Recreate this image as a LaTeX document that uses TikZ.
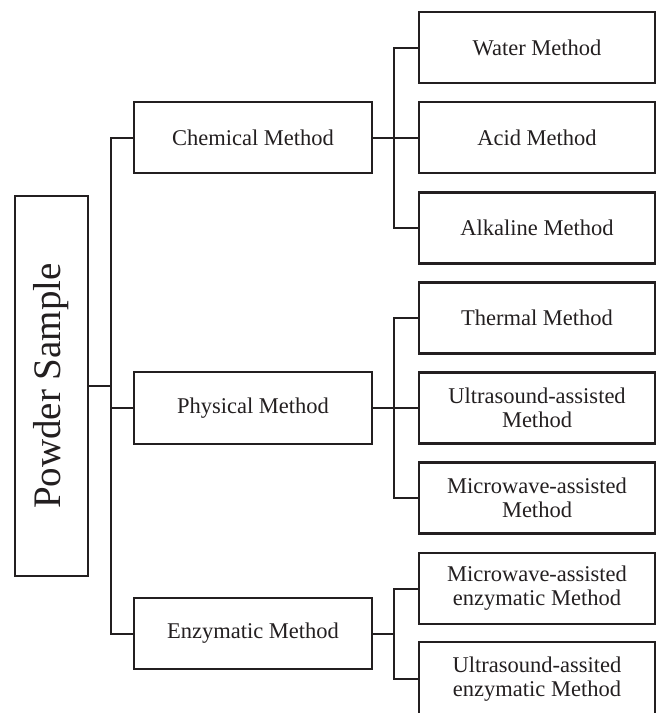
\documentclass[tikz,border=0pt]{standalone}
\usepackage{fontspec}
\usepackage{graphicx}
\setmainfont{Liberation Serif}
\definecolor{ink}{RGB}{35,31,32}
\begin{document}
\begin{tikzpicture}[x=1pt,y=-1pt,
  box/.style={draw=ink, line width=2.2pt, rectangle, inner sep=0pt, align=center,
    font=\fontsize{22.5}{24}\selectfont, text=ink},
  mid/.style={box, minimum width=238pt, minimum height=71.5pt},
  leaf/.style={box, minimum width=236pt, minimum height=71pt},
  link/.style={draw=ink, line width=2pt}]
\clip (0,0) rectangle (659,713);
% root
\node[box, minimum width=73pt, minimum height=380pt, font=\fontsize{39}{40}\selectfont] (ps) at (51.5,386) {\rotatebox{90}{Powder Sample}};
% middle level
\node[mid] (cm) at (253,137.5) {Chemical Method};
\node[mid] (ph) at (253,408) {Physical Method};
\node[mid] (en) at (253,633.5) {Enzymatic Method};
% leaves
\node[leaf] (wa) at (537,47.5) {Water Method};
\node[leaf] (ac) at (537,137.5) {Acid Method};
\node[leaf] (al) at (537,228) {Alkaline Method};
\node[leaf] (th) at (537,318) {Thermal Method};
\node[leaf] (us) at (537,408) {Ultrasound-assisted\\Method};
\node[leaf] (mw) at (537,498) {Microwave-assisted\\Method};
\node[leaf] (me) at (537,588.5) {Microwave-assisted\\enzymatic Method};
\node[leaf, minimum height=74pt] (ue) at (537,679) {Ultrasound-assited\\enzymatic Method};
% junctions
\coordinate (j1) at (111,386);
\coordinate (k1) at (394,0);
% root to middle
\draw[link] (ps.east) -- (j1);
\draw[link] (cm.west) -- (cm.west -| j1) -- (en.west -| j1) -- (en.west);
\draw[link] (ph.west) -- (ph.west -| j1);
% chemical
\draw[link] (wa.west) -- (wa.west -| k1) -- (al.west -| k1) -- (al.west);
\draw[link] (cm.east) -- (ac.west);
% physical
\draw[link] (th.west) -- (th.west -| k1) -- (mw.west -| k1) -- (mw.west);
\draw[link] (ph.east) -- (us.west);
% enzymatic
\draw[link] (me.west) -- (me.west -| k1) -- (ue.west -| k1) -- (ue.west);
\draw[link] (en.east) -- (en.east -| k1);
\end{tikzpicture}
\end{document}
